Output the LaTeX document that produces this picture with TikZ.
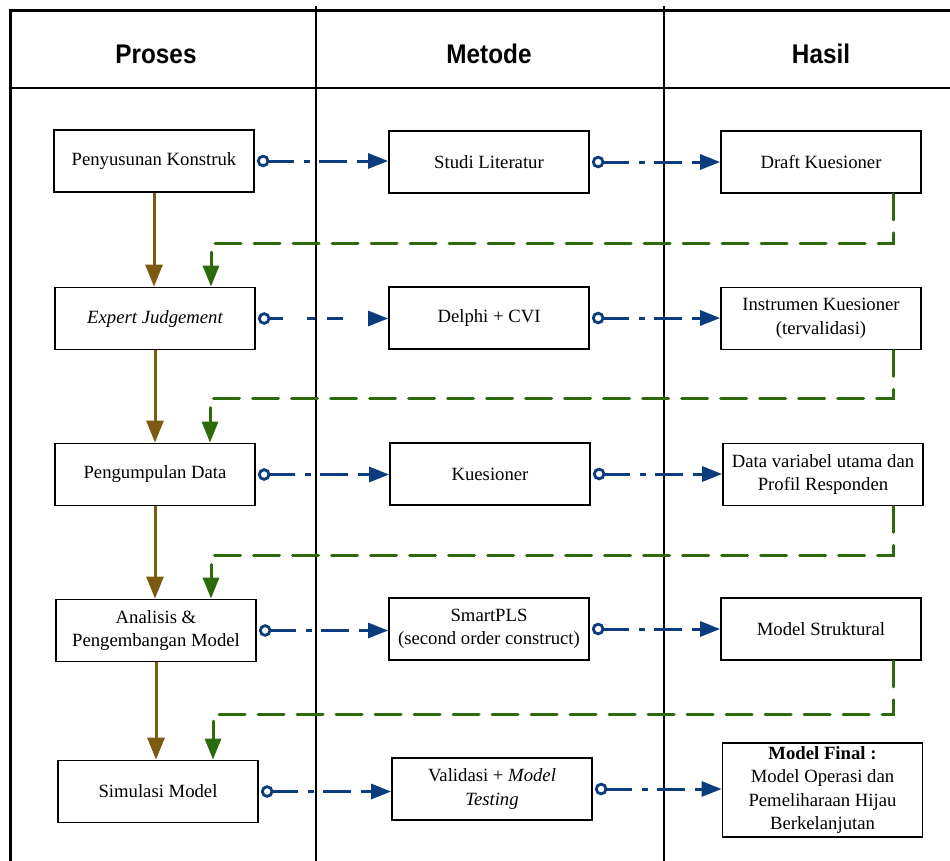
\documentclass[tikz,border=0pt]{standalone}
\usepackage{fontspec}
\setmainfont{Liberation Serif}
\newfontfamily\headfont{Liberation Sans}
\usetikzlibrary{arrows.meta}
\definecolor{navy}{HTML}{0B3D7E}
\definecolor{grn}{HTML}{2D6A0C}
\definecolor{brn}{HTML}{7B5A12}
\newcommand{\hd}[1]{\scalebox{0.9}[1]{#1}}
\tikzset{
  box/.style={draw=black, line width=1.8pt, fill=white, minimum width=200pt, minimum height=62pt, align=center, inner sep=2pt, font=\fontsize{18.7}{23.5}\selectfont},
  head/.style={font=\headfont\bfseries\fontsize{27}{32}\selectfont},
  frame/.style={line width=3pt, line cap=rect},
  divider/.style={line width=1.5pt},
  bconn/.style={draw=navy, line width=3pt, {Circle[open, length=12.5pt, line width=2.8pt, fill=white]}-{Triangle[length=20pt, width=15pt]}, dash pattern=on 26pt off 10pt on 6pt off 9pt on 28pt off 10pt on 60pt off 10pt},
  bconnb/.style={bconn, dash pattern=on 14pt off 24pt on 8pt off 12pt on 16pt off 30pt on 40pt off 10pt},
  gconn/.style={draw=grn, line width=3pt, line cap=round, -{Triangle[length=21pt, width=16pt, line cap=butt]}, dash pattern=on 26pt off 13pt},
  brconn/.style={draw=brn, line width=3pt, -{Triangle[length=22pt, width=17pt]}}
}
\begin{document}
\begin{tikzpicture}[x=1pt, y=-1pt]
\useasboundingbox (0,0) rectangle (950,860);
% frame
\draw[frame] (950,10) -- (10,10) -- (10,862);
\draw[line width=2.5pt] (10,88) -- (950,88);
\draw[divider] (316,6) -- (316,862);
\draw[divider] (664,6) -- (664,862);
% headers
\node[head] (hp) at (156,54) {\hd{Proses}};
\node[head] (hm) at (489,54) {\hd{Metode}};
\node[head] (hh) at (821,54) {\hd{Hasil}};
% boxes
\node[box] (P1) at (154,161) {Penyusunan Konstruk};
\node[box] (M1) at (489,162) {Studi Literatur};
\node[box] (H1) at (821,162) {Draft Kuesioner};
\node[box] (P2) at (155,318.5) {\itshape Expert Judgement};
\node[box] (M2) at (489,318) {Delphi + CVI};
\node[box] (H2) at (821,318.5) {Instrumen Kuesioner\\(tervalidasi)};
\node[box] (P3) at (155,474.5) {Pengumpulan Data};
\node[box] (M3) at (490,474) {Kuesioner};
\node[box] (H3) at (823,474.5) {Data variabel utama dan\\Profil Responden};
\node[box] (P4) at (156,630.5) {Analisis \&\\Pengembangan Model};
\node[box] (M4) at (489,629) {SmartPLS\\(second order construct)};
\node[box] (H4) at (821,629) {Model Struktural};
\node[box] (P5) at (158,791.5) {Simulasi Model};
\node[box] (M5) at (492,789) {Validasi + \textit{Model}\\\textit{Testing}};
\node[box, minimum height=94pt] (H5) at (822.5,790) {\textbf{Model Final :}\\Model Operasi dan\\Pemeliharaan Hijau\\Berkelanjutan};
% blue connectors
\draw[bconn] ([xshift=2pt]P1.east) -- (M1.west |- P1.east);
\draw[bconn] ([xshift=2pt]M1.east) -- (H1.west);
\draw[bconnb] ([xshift=2pt]P2.east) -- (M2.west |- P2.east);
\draw[bconn] ([xshift=2pt]M2.east) -- (H2.west |- M2.east);
\draw[bconn] ([xshift=2pt]P3.east) -- (M3.west |- P3.east);
\draw[bconn] ([xshift=2pt]M3.east) -- (H3.west |- M3.east);
\draw[bconn] ([xshift=2pt]P4.east) -- (M4.west |- P4.east);
\draw[bconn] ([xshift=2pt]M4.east) -- (H4.west);
\draw[bconn] ([xshift=2pt]P5.east) -- (M5.west |- P5.east);
\draw[bconn] ([xshift=2pt]M5.east) -- (H5.west |- M5.east);
% brown arrows
\draw[brconn] (P1.south) -- (P1.south |- P2.north);
\draw[brconn] (P2.south) -- (P2.south |- P3.north);
\draw[brconn] (P3.south) -- (P3.south |- P4.north);
\draw[brconn] (P4.south) -- (P4.south |- P5.north);
% green feedback
\coordinate (g1) at (0,243);
\coordinate (g2) at (0,398);
\coordinate (g3) at (0,555);
\coordinate (g4) at (0,714);
\coordinate (s1) at ([xshift=-28pt]H1.south east);
\coordinate (s2) at ([xshift=-28pt]H2.south east);
\coordinate (s3) at ([xshift=-30pt]H3.south east);
\coordinate (s4) at ([xshift=-28pt]H4.south east);
\draw[gconn] (s1) -- (s1 |- g1) -| ([xshift=56pt]P2.north);
\draw[gconn] (s2) -- (s2 |- g2) -| ([xshift=55pt]P3.north);
\draw[gconn] (s3) -- (s3 |- g3) -| ([xshift=55pt]P4.north);
\draw[gconn] (s4) -- (s4 |- g4) -| ([xshift=55pt]P5.north);
\end{tikzpicture}
\end{document}
